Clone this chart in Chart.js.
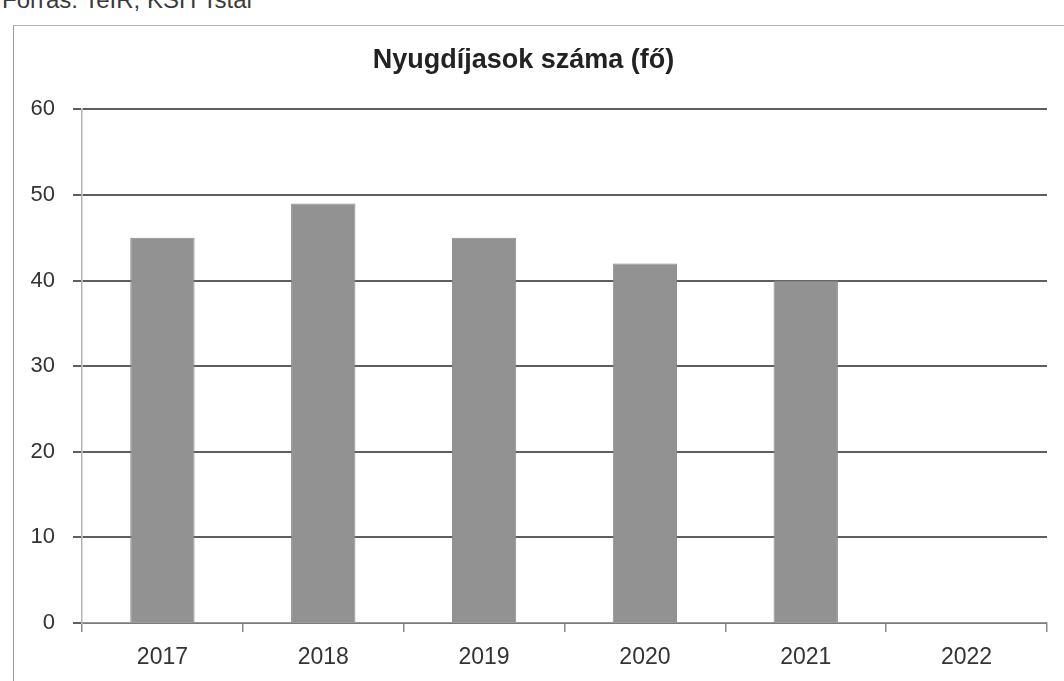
<!DOCTYPE html>
<html>
<head>
<meta charset="utf-8">
<script src="https://cdn.jsdelivr.net/npm/chart.js@4"></script>
<style>
    html, body { margin: 0; padding: 0; background: #fff; overflow: hidden; }
    #wrap { position: relative; width: 1064px; height: 681px; }
    #source {
        position: absolute; left: 2px; top: -12px;
        font: 24px "Liberation Sans", Arial, sans-serif; line-height: 24px;
        color: #3a3a3a; white-space: nowrap;
    }
    #frame {
        position: absolute; left: 13px; top: 25px; width: 1100px; height: 700px;
        border-left: 1px solid #9a9a9a; border-top: 1px solid #b0b0b0;
    }
    #chart { position: absolute; left: 0; top: 0; }
</style>
</head>
<body>
<div id="wrap">
    <div id="source">Forrás: TeIR, KSH Tstar</div>
    <div id="frame"></div>
    <canvas id="chart" width="1064" height="681"></canvas>
</div>
<script>
// adatok
const years = ["2017", "2018", "2019", "2020", "2021", "2022"];
const pensioners = [45, 49, 45, 42, 40, null];
const chartTitle = "Nyugdíjasok száma (fő)";
const yMax = 60;
const yStep = 10;

const font = "'Liberation Sans', Arial, sans-serif";

const ctx = document.getElementById("chart").getContext("2d");
const chart = new Chart(ctx, {
    type: "bar",
    data: {
        labels: years,
        datasets: [{
            label: chartTitle,
            data: pensioners,
            backgroundColor: "#929292",
            borderColor: "#888888",
            borderWidth: 1,
            barPercentage: 0.8,
            categoryPercentage: 0.5
        }]
    },
    options: {
        responsive: false,
        animation: false,
        layout: { padding: { left: 0, right: 17, top: 0, bottom: 0 } },
        plugins: {
            legend: { display: false },
            tooltip: { enabled: false },
            title: {
                display: true,
                text: chartTitle,
                color: "#222",
                font: { family: font, size: 27, weight: "bold", lineHeight: 1.2 },
                padding: { top: 44, bottom: 33 }
            }
        },
        scales: {
            x: {
                grid: {
                    offset: true,
                    drawOnChartArea: false,
                    drawTicks: true,
                    tickLength: 9,
                    color: "#8a8a8a",
                    lineWidth: 1.5
                },
                border: { display: true, color: "#9a9a9a", width: 1.5 },
                ticks: {
                    color: "#333",
                    padding: 12,
                    font: { family: font, size: 23 }
                },
                afterFit: function (scale) { scale.height = 58; }
            },
            y: {
                min: 0,
                max: yMax,
                grid: {
                    color: "#5e5e5e",
                    lineWidth: 2,
                    tickLength: 9
                },
                border: { display: true, color: "#b4b4b4", width: 1.5 },
                ticks: {
                    stepSize: yStep,
                    color: "#333",
                    padding: 18,
                    font: { family: font, size: 22 }
                },
                afterFit: function (scale) { scale.width = 82; }
            }
        }
    }
});
</script>
</body>
</html>
